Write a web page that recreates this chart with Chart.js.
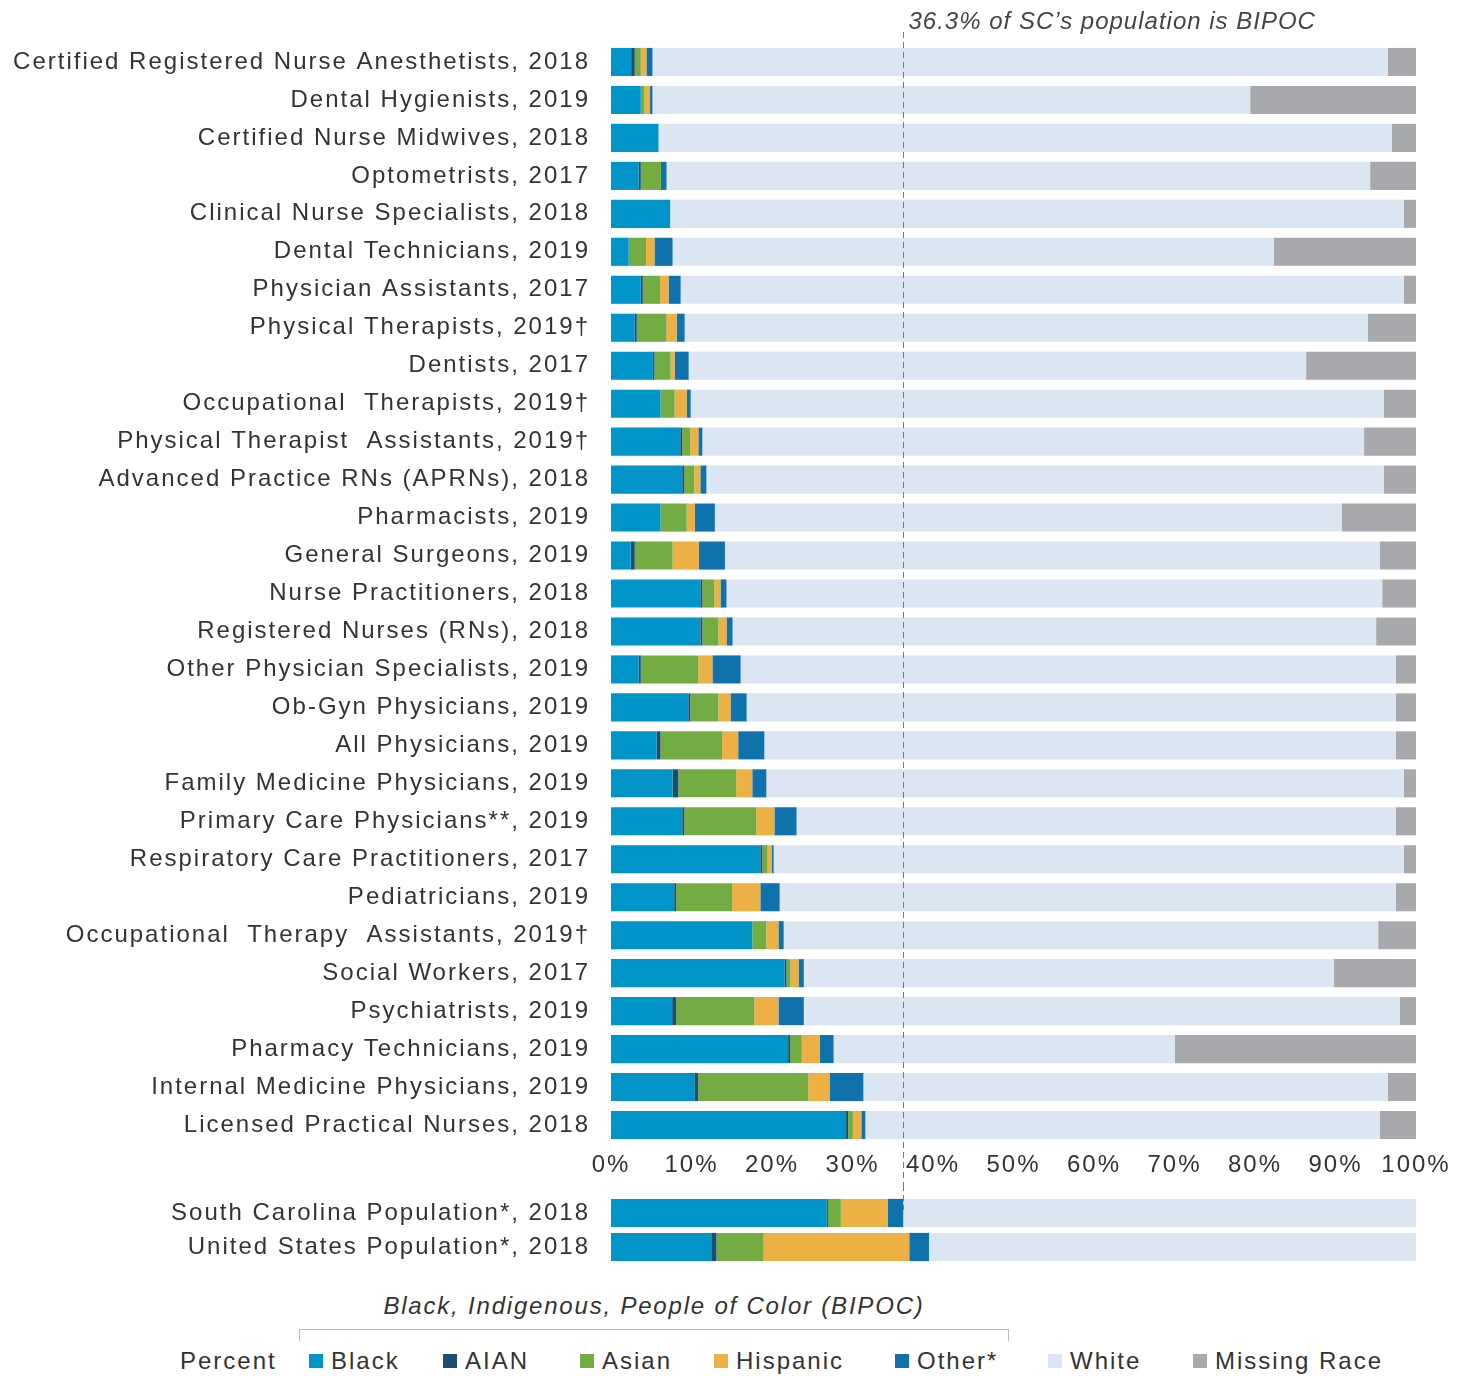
<!DOCTYPE html>
<html lang="en">
<head>
    <meta charset="UTF-8">
    <title>BIPOC share of SC health workforce</title>
    <script src="https://cdn.jsdelivr.net/npm/chart.js"></script>
    <style>
        body { margin: 0; background: #fff; font-family: "Liberation Sans", Arial, sans-serif; color: #333; }
        .wrap { position: relative; width: 1465px; height: 1376px; }
        #mainChart { position: absolute; left: 0; top: 0; }
        #popChart { position: absolute; left: 0; top: 1185px; }
        .bipoc { position: absolute; left: 300px; width: 708px; top: 1292px; text-align: center; font-style: italic; font-size: 24px; letter-spacing: 1.8px; }
        .bracket { position: absolute; left: 299px; top: 1329px; width: 708px; height: 11px; border: 1px solid #bbb; border-bottom: none; }
        .lg { position: absolute; top: 1347px; font-size: 24px; line-height: 28px; white-space: nowrap; letter-spacing: 2px; }
        .sw { display: inline-block; width: 14px; height: 14px; margin-right: 8px; vertical-align: 1px; }
    </style>
</head>
<body>
<div class="wrap">
    <canvas id="mainChart" width="1465" height="1185"></canvas>
    <canvas id="popChart" width="1465" height="85"></canvas>
    <div class="bipoc">Black, Indigenous, People of Color (BIPOC)</div>
    <div class="bracket"></div>
    <div id="legend"></div>
</div>
<script>
    // categories, top to bottom
    const categories = [
        'Certified Registered Nurse Anesthetists, 2018',
        'Dental Hygienists, 2019',
        'Certified Nurse Midwives, 2018',
        'Optometrists, 2017',
        'Clinical Nurse Specialists, 2018',
        'Dental Technicians, 2019',
        'Physician Assistants, 2017',
        'Physical Therapists, 2019\u2020',
        'Dentists, 2017',
        'Occupational  Therapists, 2019\u2020',
        'Physical Therapist  Assistants, 2019\u2020',
        'Advanced Practice RNs (APRNs), 2018',
        'Pharmacists, 2019',
        'General Surgeons, 2019',
        'Nurse Practitioners, 2018',
        'Registered Nurses (RNs), 2018',
        'Other Physician Specialists, 2019',
        'Ob-Gyn Physicians, 2019',
        'All Physicians, 2019',
        'Family Medicine Physicians, 2019',
        'Primary Care Physicians**, 2019',
        'Respiratory Care Practitioners, 2017',
        'Pediatricians, 2019',
        'Occupational  Therapy  Assistants, 2019\u2020',
        'Social Workers, 2017',
        'Psychiatrists, 2019',
        'Pharmacy Technicians, 2019',
        'Internal Medicine Physicians, 2019',
        'Licensed Practical Nurses, 2018'
    ];
    const black    = [2.5, 3.7, 5.9, 3.45, 7.35, 2.2, 3.7, 2.95, 5.2, 6.15, 8.6, 8.85, 6.15, 2.45, 11.1, 11.1, 3.45, 9.6, 5.65, 7.65, 8.85, 18.55, 7.85, 17.55, 21.55, 7.6, 22.0, 10.35, 29.2];
    const aian     = [0.45, 0, 0, 0.25, 0, 0, 0.25, 0.25, 0.2, 0, 0.25, 0.25, 0, 0.5, 0.25, 0.25, 0.25, 0.25, 0.5, 0.7, 0.25, 0.25, 0.25, 0, 0.25, 0.5, 0.25, 0.5, 0.25];
    const asian    = [0.75, 0.45, 0, 2.5, 0, 2.15, 2.15, 3.7, 2.0, 1.75, 1.0, 1.25, 3.25, 4.7, 1.5, 2.0, 7.15, 3.5, 7.65, 7.2, 8.95, 0.65, 6.95, 1.75, 0.5, 9.7, 1.45, 13.65, 0.6];
    const hispanic = [0.7, 0.7, 0, 0, 0, 1.05, 1.05, 1.25, 0.5, 1.5, 1.0, 0.75, 1.0, 3.25, 0.75, 1.0, 1.75, 1.5, 2.0, 2.0, 2.25, 0.5, 3.5, 1.5, 1.0, 3.0, 2.25, 2.65, 1.05];
    const other    = [0.75, 0.3, 0, 0.7, 0, 2.25, 1.5, 1.0, 1.75, 0.5, 0.5, 0.75, 2.5, 3.25, 0.75, 0.75, 3.5, 2.0, 3.25, 1.75, 2.75, 0.25, 2.4, 0.65, 0.65, 3.15, 1.7, 4.2, 0.5];
    const white    = [91.35, 74.25, 91.1, 87.4, 91.15, 74.7, 89.85, 84.85, 76.7, 86.1, 82.2, 84.15, 77.9, 81.35, 81.45, 79.95, 81.4, 80.65, 78.45, 79.2, 74.45, 78.3, 76.55, 73.85, 65.85, 74.05, 42.4, 65.15, 63.9];
    const missing  = [3.5, 20.6, 3.0, 5.7, 1.5, 17.65, 1.5, 6.0, 13.65, 4.0, 6.45, 4.0, 9.2, 4.5, 4.2, 4.95, 2.5, 2.5, 2.5, 1.5, 2.5, 1.5, 2.5, 4.7, 10.2, 2.0, 29.95, 3.5, 4.5];

    // population comparison bars
    const popCategories = ['South Carolina Population*, 2018', 'United States Population*, 2018'];
    const popBlack    = [26.8, 12.45];
    const popAian     = [0.15, 0.65];
    const popAsian    = [1.6, 5.85];
    const popHispanic = [5.85, 18.1];
    const popOther    = [1.9, 2.45];
    const popWhite    = [63.7, 60.5];

    const xTicks = [0, 10, 20, 30, 40, 50, 60, 70, 80, 90, 100];
    const scBipoc = 36.3;

    const seriesNames = ['Black', 'AIAN', 'Asian', 'Hispanic', 'Other*', 'White', 'Missing Race'];
    const colors = ['#0094c9', '#1e4d70', '#72ac43', '#ecb045', '#0f72ad', '#dce6f2', '#a7a9ac'];

    const font = { family: '"Liberation Sans", Arial, sans-serif', size: 24 };
    const PLOT_LEFT = 611, PLOT_RIGHT_PAD = 49;

    function makeSets(arrs) {
        return arrs.map((d, i) => ({
            label: seriesNames[i],
            data: d,
            backgroundColor: colors[i],
            borderWidth: 0
        }));
    }

    // wider tracking, like the original's type
    const tracking = {
        id: 'tracking',
        beforeUpdate(chart) { chart.ctx.letterSpacing = '2px'; },
        beforeLayout(chart) { chart.ctx.letterSpacing = '2px'; },
        beforeDraw(chart) { chart.ctx.letterSpacing = '2px'; }
    };

    // dashed reference line at 36.3%
    const refLine = {
        id: 'refLine',
        afterDatasetsDraw(chart, args, opts) {
            const x = Math.round(chart.scales.x.getPixelForValue(scBipoc)) + 0.5;
            const c = chart.ctx;
            c.save();
            c.strokeStyle = '#777';
            c.lineWidth = 1;
            c.setLineDash([6, 4]);
            c.beginPath();
            c.moveTo(x, opts.top);
            c.lineTo(x, opts.bottom === 'end' ? chart.height : chart.chartArea.top + 14);
            c.stroke();
            if (opts.text) {
                c.setLineDash([]);
                c.letterSpacing = '1px';
                c.fillStyle = '#444';
                c.font = 'italic 24px "Liberation Sans", Arial, sans-serif';
                c.textBaseline = 'alphabetic';
                c.fillText(opts.text, x + 5, 29);
            }
            c.restore();
        }
    };

    function baseOptions() {
        return {
            indexAxis: 'y',
            responsive: false,
            animation: false,
            plugins: { legend: { display: false }, tooltip: { enabled: false } },
            datasets: { bar: { categoryPercentage: 1 } },
            scales: {
                x: {
                    stacked: true, min: 0, max: 100,
                    grid: { display: false, drawTicks: false },
                    border: { display: false },
                    afterBuildTicks: s => { s.ticks = xTicks.map(v => ({ value: v })); },
                    ticks: { font: font, color: '#333', padding: 7, maxRotation: 0, callback: v => v + '%' }
                },
                y: {
                    stacked: true,
                    grid: { display: false, drawTicks: false },
                    border: { display: false },
                    ticks: { font: font, color: '#333', padding: 21, autoSkip: false },
                    afterFit: s => { s.width = PLOT_LEFT; s.paddingTop = 0; s.paddingBottom = 0; }
                }
            }
        };
    }

    const mainOpts = baseOptions();
    mainOpts.layout = { padding: { top: 43, right: PLOT_RIGHT_PAD, left: 0, bottom: 0 } };
    mainOpts.datasets.bar.barPercentage = 0.74;
    mainOpts.scales.x.afterFit = s => { s.height = 41; };
    mainOpts.plugins.refLine = { top: 32, bottom: 'end', text: '36.3% of SC\u2019s population is BIPOC' };

    new Chart(document.getElementById('mainChart'), {
        type: 'bar',
        data: { labels: categories, datasets: makeSets([black, aian, asian, hispanic, other, white, missing]) },
        options: mainOpts,
        plugins: [tracking, refLine]
    });

    const popOpts = baseOptions();
    popOpts.layout = { padding: { top: 11, right: PLOT_RIGHT_PAD, left: 0, bottom: 6 } };
    popOpts.datasets.bar.barPercentage = 0.83;
    popOpts.scales.x.display = false;
    popOpts.plugins.refLine = { top: 0, bottom: 'bar' };

    new Chart(document.getElementById('popChart'), {
        type: 'bar',
        data: { labels: popCategories, datasets: makeSets([popBlack, popAian, popAsian, popHispanic, popOther, popWhite]) },
        options: popOpts,
        plugins: [tracking, refLine]
    });

    // legend row
    const legendX = [309, 443, 580, 714, 895, 1048, 1193];
    const legend = document.getElementById('legend');
    let html = '<div class="lg" style="left:180px">Percent</div>';
    seriesNames.forEach((n, i) => {
        html += '<div class="lg" style="left:' + legendX[i] + 'px"><span class="sw" style="background:' + colors[i] + '"></span>' + n + '</div>';
    });
    legend.innerHTML = html;
</script>
</body>
</html>
